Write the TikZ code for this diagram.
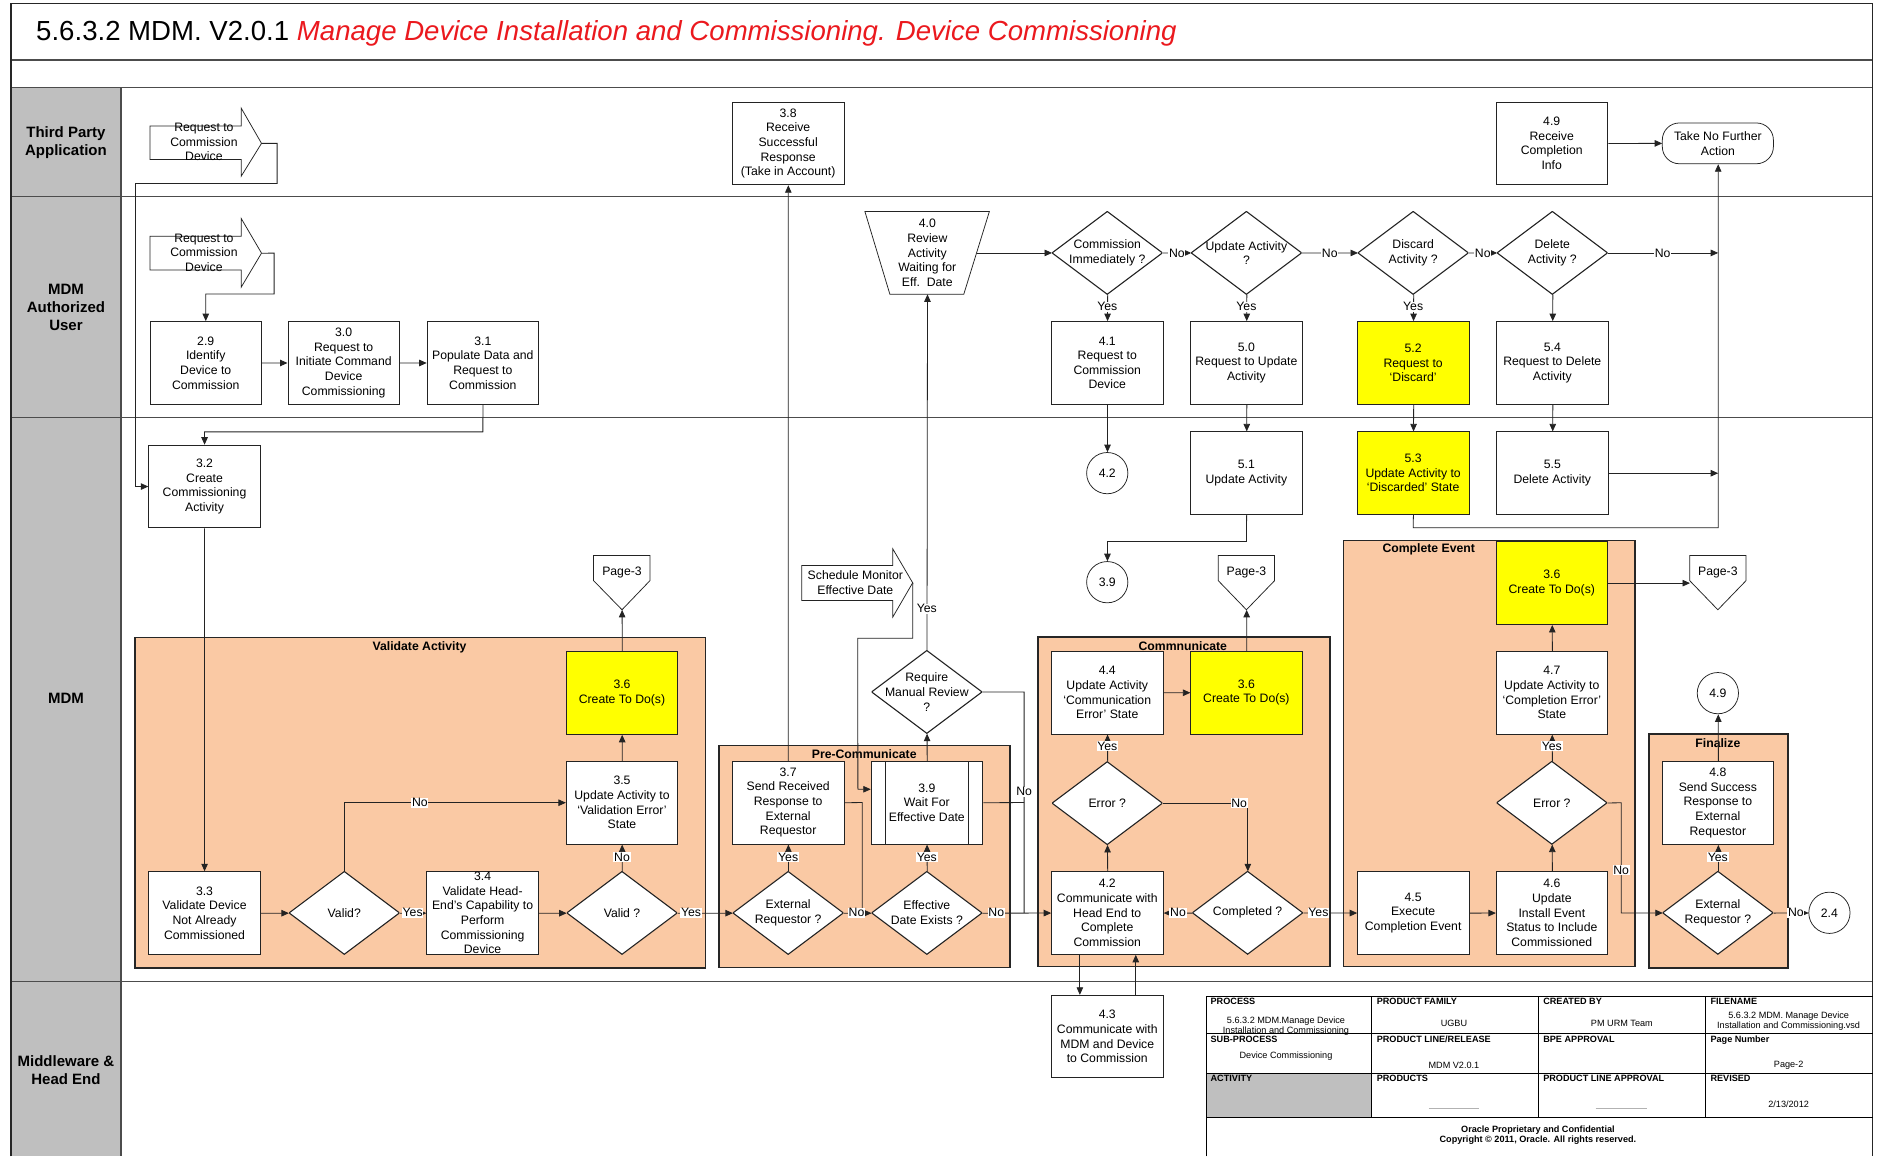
\documentclass[tikz,border=0pt]{standalone}
\usepackage{fontspec}
\setmainfont{Liberation Sans}
\usetikzlibrary{arrows.meta}
\definecolor{peach}{RGB}{250,201,164}
\definecolor{lanegray}{RGB}{191,191,191}
\definecolor{ttlred}{RGB}{235,25,30}
\definecolor{hlyel}{RGB}{255,255,0}
\definecolor{ink}{RGB}{35,35,35}
\newcommand{\bodyfs}{\fontsize{10.2}{12.2}\selectfont}
\newcommand{\lanefs}{\fontsize{12.5}{15}\selectfont\bfseries}
\newcommand{\tabfs}{\fontsize{7.6}{8.3}\selectfont}
\begin{document}
\begin{tikzpicture}[x=1pt,y=-1pt,scale=1.2,transform shape,
  box/.style={draw=ink,line width=0.75pt,fill=white,minimum width=93,minimum height=69,inner sep=1pt,align=center,font=\bodyfs},
  ybox/.style={box,fill=hlyel},
  dia/.style={rectangle,minimum width=92,minimum height=69,inner sep=0pt,align=center,font=\bodyfs,
    path picture={\draw[draw=ink,line width=1.1pt,fill=white] (path picture bounding box.north)--(path picture bounding box.east)--(path picture bounding box.south)--(path picture bounding box.west)--cycle;}},
  circ/.style={circle,draw=ink,line width=0.75pt,fill=white,minimum size=34.4,inner sep=0pt,font=\bodyfs},
  grp/.style={draw=black!85,line width=1.7pt,fill=peach},
  grplbl/.style={font=\bodyfs\bfseries,inner sep=0.5pt},
  shp/.style={draw=ink,line width=0.75pt,fill=white},
  txt/.style={font=\bodyfs,align=center,inner sep=0pt},
  conn/.style={draw=ink,line width=0.8pt},
  arr/.style={conn,-{Triangle[length=7.5pt,width=6.5pt]}},
  lbl/.style={fill=white,inner sep=0.6pt,font=\bodyfs},
  lane/.style={draw=black!70,line width=1.4pt},
  lanelbl/.style={font=\lanefs,align=center},
  th/.style={font=\tabfs\bfseries,anchor=north west,inner sep=0pt},
  td/.style={font=\tabfs,align=center,inner sep=0pt},
]
\useasboundingbox (0,0) rectangle (1568,964);
\fill[white] (0,0) rectangle (1568,964);
% ---------- frame and lanes ----------
\fill[lanegray] (9,73) rectangle (101,964);
\draw[lane] (9,50) -- (1561,50);
\draw[lane] (9,73) -- (1561,73);
\draw[lane] (9,164) -- (1561,164);
\draw[lane] (9,348) -- (1561,348);
\draw[lane] (9,818) -- (1561,818);
\draw[lane] (101,73) -- (101,964);
\draw[line width=1.6pt,black!85] (9,964) -- (9,3) -- (1561,3) -- (1561,964);
\node[anchor=base west,inner sep=0pt,font=\fontsize{23}{26}\selectfont] (title) at (30,34) {5.6.3.2 MDM. V2.0.1 \textcolor{ttlred}{\itshape Manage Device Installation and Commissioning. Device Commissioning}};
\node[lanelbl] (ll1) at (55,119) {Third Party\\Application};
\node[lanelbl] (ll2) at (55,256) {MDM\\Authorized\\User};
\node[lanelbl] (ll3) at (55,582) {MDM};
\node[lanelbl] (ll4) at (55,892) {Middleware \&\\Head End};
% ---------- groups ----------
\draw[grp] (112.8,531.4) rectangle (588,807);
\draw[grp] (599.3,621.4) rectangle (841.7,806.4);
\draw[grp] (865.5,531) rectangle (1108.7,805.6);
\draw[grp] (1120,450.6) rectangle (1363,805.6);
\draw[grp] (1374.8,612) rectangle (1490.5,807);
\node[grplbl] (g1) at (349.7,539.4) {Validate Activity};
\node[grplbl] (g2) at (720.4,629) {Pre-Communicate};
\node[grplbl] (g3) at (986,539) {Commnunicate};
\node[grplbl] (g4) at (1191,458.3) {Complete Event};
\node[grplbl] (g5) at (1432,619.4) {Finalize};
% ---------- input arrows ----------
\draw[shp] (125,105) -- (201,105) -- (201,90) -- (218,119.5) -- (201,147) -- (201,133) -- (125,133) -- cycle;
\node[txt] (rq1) at (170,118.5) {Request to\\Commission\\Device};
\coordinate (rq1tip) at (218,119.5);
\draw[shp] (125,197) -- (201,197) -- (201,182) -- (218,211) -- (201,239.5) -- (201,225) -- (125,225) -- cycle;
\node[txt] (rq2) at (170,210.5) {Request to\\Commission\\Device};
\coordinate (rq2tip) at (218,211);
\draw[shp] (668.3,471.4) -- (744.2,471.4) -- (744.2,457.5) -- (760.8,485.8) -- (744.2,514.4) -- (744.2,500.6) -- (668.3,500.6) -- cycle;
\node[txt] (sm) at (713,485.8) {Schedule Monitor\\Effective Date};
\coordinate (smtip) at (760.8,485.8);
% ---------- trapezoid 4.0 ----------
\draw[shp] (721,176.4) -- (824.7,176.4) -- (803.4,245.3) -- (741.8,245.3) -- cycle;
\node[txt] (n40) at (773,210.8) {4.0\\Review\\Activity\\Waiting for\\Eff.~~Date};
\coordinate (n40b) at (773,245.3);
\coordinate (n40r) at (814,210.8);
% ---------- off-page connectors ----------
\draw[shp] (494.8,463) -- (541.8,463) -- (541.8,484) -- (518.5,508.3) -- (494.8,484) -- cycle;
\node[txt] (pg1) at (518.5,477.5) {Page-3};
\coordinate (pg1tip) at (518.5,508.3);
\draw[shp] (1015.5,463) -- (1062.5,463) -- (1062.5,484) -- (1039,508.3) -- (1015.5,484) -- cycle;
\node[txt] (pg2) at (1039,477.5) {Page-3};
\coordinate (pg2tip) at (1039,508.3);
\draw[shp] (1408.5,463) -- (1455.5,463) -- (1455.5,484) -- (1432,508.3) -- (1408.5,484) -- cycle;
\node[txt] (pg3) at (1432,477.5) {Page-3};
\coordinate (pg3w) at (1408.5,486);
% ---------- boxes ----------
\node[box] (n29) at (171.5,302.5) {2.9\\Identify\\Device to\\Commission};
\node[box] (n30) at (286.5,302.5) {3.0\\Request to\\Initiate Command\\Device\\Commissioning};
\node[box] (n31) at (402.5,302.5) {3.1\\Populate Data and\\Request to\\Commission};
\node[box] (n32) at (170.5,405.5) {3.2\\Create\\Commissioning\\Activity};
\node[box] (n38) at (657,119.5) {3.8\\Receive\\Successful\\Response\\(Take in Account)};
\node[box] (n49) at (1293.5,119.5) {4.9\\Receive\\Completion\\Info};
\node[box,rounded corners=17,minimum width=92.6,minimum height=34] (tnfa) at (1432,119.5) {Take No Further\\Action};
\node[dia] (cimm) at (923,210.8) {Commission\\Immediately ?};
\node[dia] (dupd) at (1039,210.8) {Update Activity\\?};
\node[dia] (ddis) at (1178,210.8) {Discard\\Activity ?};
\node[dia] (ddel) at (1294,210.8) {Delete\\Activity ?};
\node[box] (n41) at (923,302.5) {4.1\\Request to\\Commission\\Device};
\node[box] (n50) at (1039,302.5) {5.0\\Request to Update\\Activity};
\node[ybox] (n52) at (1178,302.5) {5.2\\Request to\\`Discard'};
\node[box] (n54) at (1294,302.5) {5.4\\Request to Delete\\Activity};
\node[box] (n51) at (1039,394.4) {5.1\\Update Activity};
\node[ybox] (n53) at (1178,394.4) {5.3\\Update Activity to\\`Discarded' State};
\node[box] (n55) at (1294,394.4) {5.5\\Delete Activity};
\node[circ] (c42) at (923,394.4) {4.2};
\node[circ] (c39) at (923,485.3) {3.9};
% validate
\node[box] (n33) at (170.5,761) {3.3\\Validate Device\\Not Already\\Commissioned};
\node[dia] (dv1) at (287,761) {Valid?};
\node[box] (n34) at (402.3,761) {};
\node[txt] (n34t) at (402.3,761) {3.4\\Validate Head-\\End's Capability to\\Perform\\Commissioning\\Device};
\node[dia] (dv2) at (518.5,761) {Valid ?};
\node[box] (n35) at (518.5,669) {3.5\\Update Activity to\\`Validation Error'\\State};
\node[ybox] (n36a) at (518.5,577.5) {3.6\\Create To Do(s)};
% pre-communicate
\node[box] (n37) at (657,669) {3.7\\Send Received\\Response to\\External\\Requestor};
\node[box] (n39) at (772.6,669) {3.9\\Wait For\\Effective Date};
\draw[draw=ink,line width=0.75pt] (738,634.5) -- (738,703.5) (807,634.5) -- (807,703.5);
\node[dia] (dext) at (657,761) {External\\Requestor ?};
\node[dia] (deff) at (772.6,761) {Effective\\Date Exists ?};
\node[dia] (drmr) at (772.6,576.8) {Require\\Manual Review\\?};
% communicate
\node[box] (n44) at (923,577.3) {4.4\\Update Activity\\`Communication\\Error' State};
\node[ybox] (n36b) at (1039,577.3) {3.6\\Create To Do(s)};
\node[dia] (derr1) at (923,669.5) {Error ?};
\node[dia] (dcomp) at (1040,760.9) {Completed ?};
\node[box] (n42) at (923,760.9) {4.2\\Communicate with\\Head End to\\Complete\\Commission};
\node[box] (n43) at (923,864) {4.3\\Communicate with\\MDM and Device\\to Commission};
% complete event
\node[ybox] (n36c) at (1293.6,486) {3.6\\Create To Do(s)};
\node[box] (n47) at (1293.6,577.4) {4.7\\Update Activity to\\`Completion Error'\\State};
\node[dia] (derr2) at (1293.6,669.2) {Error ?};
\node[box] (n45) at (1178,760.9) {4.5\\Execute\\Completion Event};
\node[box] (n46) at (1293.6,760.9) {4.6\\Update\\Install Event\\Status to Include\\Commissioned};
% finalize
\node[box] (n48) at (1432,669.3) {4.8\\Send Success\\Response to\\External\\Requestor};
\node[dia] (dext2) at (1432,760.9) {External\\Requestor ?};
\node[circ] (c49) at (1432,577.8) {4.9};
\node[circ] (c24) at (1525,760.9) {2.4};
% ---------- coordinates ----------
\coordinate (smj) at (715,657.8);
\coordinate (x900) at (900,0);
\coordinate (x947) at (946.6,0);
\coordinate (jn1) at (1432,210.8);
\coordinate (jn2) at (1432,394.4);
% ---------- connectors ----------
\draw[arr] (rq1tip) -- (231,119.5) -- (231,153) -- (113,153) |- (n32.west);
\draw[arr] (rq2tip) -- (228.5,211) -- (228.5,245) -| (n29.north);
\draw[arr] (n29) -- (n30);
\draw[arr] (n30) -- (n31);
\draw[arr] (n31.south) -- (402.5,360) -| (n32.north);
\draw[arr] (n32) -- (n33);
\draw[arr] (n33) -- (dv1);
\draw[arr] (dv1) -- (n34);
\draw[arr] (n34) -- (dv2);
\draw[arr] (dv1.north) |- (n35.west);
\draw[arr] (dv2) -- (n35);
\draw[arr] (n35) -- (n36a);
\draw[arr] (n36a) -- (pg1tip);
\draw[arr] (dv2) -- (dext);
\draw[arr] (dext) -- (n37);
\draw[conn] (n37.east) -- (718.7,669) -- (718.7,760.9);
\draw[arr] (dext) -- (deff);
\draw[arr] (deff) -- (n39);
\draw[arr] (n39) -- (drmr);
\draw[arr] (drmr.north) -- (n40b);
\draw[conn] (drmr.east) -- (853.7,576.8) -- (853.7,760.9);
\draw[conn] (n39.east) -- (853.7,669);
\draw[arr] (deff) -- (n42);
\draw[arr] (n37) -- (n38);
\draw[arr] (smtip) -- (760.8,532) -- (715,532) -- (smj) -- (n39.west |- smj);
\draw[arr] (n42) -- (derr1);
\draw[arr] (derr1) -- (n44);
\draw[arr] (n44) -- (n36b);
\draw[arr] (n36b) -- (pg2tip);
\draw[arr] (derr1.east) -| (dcomp.north);
\draw[arr] (dcomp) -- (n42);
\draw[arr] (dcomp) -- (n45);
\draw[arr] (n42.south -| x900) -- (n43.north -| x900);
\draw[arr] (n43.north -| x947) -- (n42.south -| x947);
\draw[arr] (n45) -- (n46);
\draw[arr] (n46) -- (derr2);
\draw[arr] (derr2) -- (n47);
\draw[arr] (n47) -- (n36c);
\draw[arr] (n36c.east |- pg3w) -- (pg3w);
\draw[arr] (derr2.east) -- (1351.4,669.2) |- (dext2.west);
\draw[arr] (dext2) -- (n48);
\draw[arr] (n48) -- (c49);
\draw[arr] (dext2) -- (c24);
\draw[arr] (n40r) -- (cimm.west);
\draw[arr] (cimm) -- (dupd);
\draw[arr] (dupd) -- (ddis);
\draw[arr] (ddis) -- (ddel);
\draw[arr] (ddel.east) -- (jn1);
\draw[arr] (cimm) -- (n41);
\draw[arr] (dupd) -- (n50);
\draw[arr] (ddis) -- (n52);
\draw[arr] (ddel) -- (n54);
\draw[arr] (n41) -- (c42);
\draw[arr] (n50) -- (n51);
\draw[arr] (n52) -- (n53);
\draw[arr] (n54) -- (n55);
\draw[arr] (n51.south) -- (1039,451.4) -| (c39.north);
\draw[arr] (n53.south) -- (1178,440) -| (tnfa.south);
\draw[arr] (n55.east) -- (jn2);
\draw[arr] (n49) -- (tnfa);
% ---------- connector labels ----------
\node[lbl] (l01) at (981,210.8) {No};
\node[lbl] (l02) at (1108.5,210.8) {No};
\node[lbl] (l03) at (1236,210.8) {No};
\node[lbl] (l04) at (1386,210.8) {No};
\node[lbl] (l05) at (923,255.6) {Yes};
\node[lbl] (l06) at (1039,255.6) {Yes};
\node[lbl] (l07) at (1178,255.6) {Yes};
\node[lbl] (l08) at (350,669) {No};
\node[lbl] (l09) at (344,760.9) {Yes};
\node[lbl] (l10) at (518.5,714.7) {No};
\node[lbl] (l11) at (576,760.9) {Yes};
\node[lbl] (l12) at (657,714.7) {Yes};
\node[lbl] (l13) at (714,760.9) {No};
\node[lbl] (l14) at (772.6,714.7) {Yes};
\node[lbl] (l15) at (830.5,760.9) {No};
\node[lbl] (l16) at (772.6,507.5) {Yes};
\node[lbl] (l17) at (853.7,660) {No};
\node[lbl] (l18) at (923,622) {Yes};
\node[lbl] (l19) at (1033,669.5) {No};
\node[lbl] (l20) at (982,760.9) {No};
\node[lbl] (l21) at (1099,760.9) {Yes};
\node[lbl] (l22) at (1293.6,622) {Yes};
\node[lbl] (l23) at (1351.4,725.6) {No};
\node[lbl] (l24) at (1432,714.7) {Yes};
\node[lbl] (l25) at (1497,760.9) {No};
% ---------- footer table ----------
\fill[lanegray] (1005.5,894.4) rectangle (1143.5,931.4);
\draw[black,line width=0.8pt] (1005.5,964) -- (1005.5,830.5) -- (1561,830.5);
\draw[black,line width=0.8pt] (1005.5,861.7) -- (1561,861.7) (1005.5,894.4) -- (1561,894.4) (1005.5,931.4) -- (1561,931.4);
\draw[black,line width=0.8pt] (1143.5,830.5) -- (1143.5,931.4) (1282.3,830.5) -- (1282.3,931.4) (1421.7,830.5) -- (1421.7,931.4);
\node[th] (t11) at (1009,832) {PROCESS};
\node[td] (v11) at (1072,855.5) {5.6.3.2 MDM.Manage Device\\Installation and Commissioning};
\node[th] (t12) at (1147.5,832) {PRODUCT FAMILY};
\node[td] (v12) at (1212,852.8) {UGBU};
\node[th] (t13) at (1286.3,832) {CREATED BY};
\node[td] (v13) at (1352,852.8) {PM URM Team};
\node[th] (t14) at (1425.7,832) {FILENAME};
\node[td] (v14) at (1491,851.5) {5.6.3.2 MDM. Manage Device\\Installation and Commissioning.vsd};
\node[th] (t21) at (1009,863.2) {SUB-PROCESS};
\node[td] (v21) at (1072,880) {Device Commissioning};
\node[th] (t22) at (1147.5,863.2) {PRODUCT LINE/RELEASE};
\node[td] (v22) at (1212,888.3) {MDM V2.0.1};
\node[th] (t23) at (1286.3,863.2) {BPE APPROVAL};
\node[th] (t24) at (1425.7,863.2) {Page Number};
\node[td] (v24) at (1491,888) {Page-2};
\node[th] (t31) at (1009,896) {ACTIVITY};
\node[th] (t32) at (1147.5,896) {PRODUCTS};
\draw[black!30,line width=1.2pt] (1191,924) -- (1233,924);
\node[th] (t33) at (1286.3,896) {PRODUCT LINE APPROVAL};
\draw[black!30,line width=1.2pt] (1330,924) -- (1373,924);
\node[th] (t34) at (1425.7,896) {REVISED};
\node[td] (v34) at (1491,920.5) {2/13/2012};
\node[td,font=\tabfs\bfseries] (v41) at (1282,946) {Oracle Proprietary and Confidential\\Copyright © 2011, Oracle. All rights reserved.};
\end{tikzpicture}
\end{document}
